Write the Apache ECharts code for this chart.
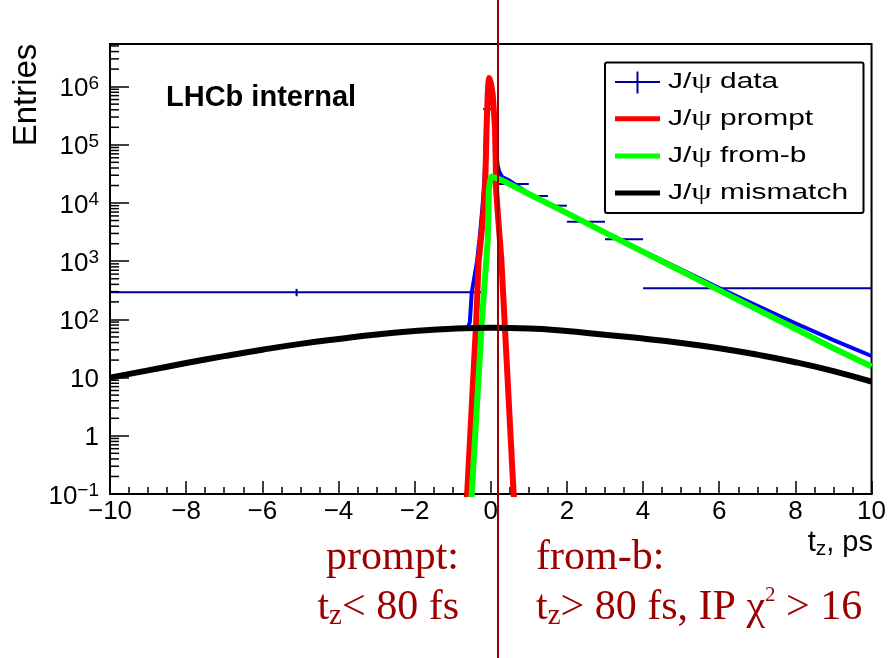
<!DOCTYPE html>
<html>
<head>
<meta charset="utf-8">
<script src="https://cdn.jsdelivr.net/npm/echarts@6/dist/echarts.min.js"></script>
<style>
  html, body { margin: 0; padding: 0; background: #fff; }
  #chart { width: 889px; height: 658px; }
</style>
</head>
<body>
<div id="chart"></div>
<script>
// ---------------- values ----------------
// J/psi data: histogram bins (t_z in ps) with entries and error-bar limits
const dataBinLo = [-10, -0.2, 0.08, 0.2, 1.0, 1.5, 2.0, 3.0, 4.0];
const dataBinHi = [-0.2, 0.08, 0.2, 1.0, 1.5, 2.0, 3.0, 4.0, 10];
const dataVal   = [292, 4.1e5, 2.5e5, 2.12e4, 1.32e4, 9.0e3, 4.77e3, 2.38e3, 342];
const dataErrLo = [250, 3.9e5, 2.4e5, 2.05e4, 1.27e4, 8.7e3, 4.6e3, 2.3e3, 331];
const dataErrHi = [335, 4.3e5, 2.6e5, 2.19e4, 1.37e4, 9.3e3, 4.94e3, 2.46e3, 353];

// prompt component
const promptT = [-0.66, -0.62, -0.54, -0.46, -0.38, -0.32, -0.26, -0.20, -0.15, -0.13, -0.11, -0.08, -0.06, -0.04,
                 -0.02, 0.01, 0.05, 0.11, 0.13, 0.14, 0.19, 0.24, 0.28, 0.36, 0.44, 0.52, 0.60, 0.64];
const promptY = [0.05, 0.1, 1, 10, 100, 1000, 2300, 6000, 1.7e4, 5.4e4, 2.0e5, 7.4e5, 1.2e6, 1.4e6,
                 1.3e6, 1.1e6, 7.4e5, 2.0e5, 5.4e4, 1.7e4, 6000, 2300, 1000, 100, 10, 1, 0.1, 0.05];

// from-b component
const fromBT = [-0.54, -0.50, -0.41, -0.32, -0.23, -0.12, -0.08, -0.05, -0.02, 0.02, 0.06, 0.3,
                1, 2, 3, 4, 5, 6, 7, 8, 9, 10];
const fromBY = [0.05, 0.1, 1, 10, 100, 1000, 2300, 1.66e4, 2.4e4, 2.85e4, 2.95e4, 2.45e4,
                1.43e4, 6700, 3100, 1450, 680, 315, 147, 69, 32, 15.5];

// mismatch component
const mismatchT = [-10, -9, -8, -7, -6, -5, -4, -3, -2, -1, 0, 1, 2, 3, 4, 5, 6, 7, 8, 9, 10];
const mismatchY = [10, 13.3, 17.8, 23.4, 30.2, 38, 46.2, 55, 63, 69.2, 71.6, 70, 63, 54.3, 46.8, 39.4, 32, 24.8,
                   18.4, 12.9, 8.5];

// total fit
const totalT = [-10, -9, -8, -7, -6, -5, -4, -3, -2, -1, -0.6, -0.55, -0.5, -0.36, -0.28, -0.21, -0.16,
                -0.12, -0.08, -0.04, 0.01, 0.05, 0.11, 0.14, 0.18, 0.22, 0.3, 0.5, 1, 2, 3, 4, 5, 6, 7, 8, 9, 10];
const totalY = [10, 13.3, 17.8, 23.4, 30.2, 38, 46.2, 55, 63, 69.2, 72, 90, 290, 1000, 3000, 1.0e4, 3.0e4,
                2.2e5, 7.6e5, 1.42e6, 1.12e6, 7.6e5, 2.2e5, 8.0e4, 4.5e4, 3.5e4, 2.8e4, 2.4e4, 1.45e4, 6800, 3150,
                1500, 720, 347, 171, 86, 44, 23.5];

const legendNames = ['J/ψ data', 'J/ψ prompt', 'J/ψ from-b', 'J/ψ mismatch'];

// ---------------- styling ----------------
const SANS = 'Liberation Sans';
const SERIF = 'Liberation Serif';
const DARK_RED = '#9b0000';
const C_DATA = '#000099', C_TOTAL = '#0000ff', C_PROMPT = '#ff0000', C_FROMB = '#00ff00', C_MIS = '#000000';

const X_MIN = -10, X_MAX = 10;
const Y_MIN = 0.1, Y_MAX = 5.4e6;

const pairs = (xs, ys) => xs.map((x, i) => [x, ys[i]]);

// log-axis minor ticks (2..9 x 10^k)
const yMinorTicks = [];
for (let k = -1; k <= 6; k++) {
  for (let m = 2; m <= 9; m++) {
    const v = m * Math.pow(10, k);
    if (v < Y_MAX) yMinorTicks.push([X_MIN, v]);
  }
}

const chart = echarts.init(document.getElementById('chart'), null, { renderer: 'canvas' });

const lineSeries = (name, xs, ys, color, width, extra) => Object.assign({
  name, type: 'line', data: pairs(xs, ys), showSymbol: false, symbol: 'none',
  lineStyle: { color, width, cap: 'butt', join: 'round' }, itemStyle: { color, borderWidth: 0 },
  clip: true, silent: true
}, extra || {});

// legend rows drawn as a boxed key
const LEG_X = 605, LEG_Y = 62.5, LEG_W = 258.5, LEG_H = 150.5;
const legRowY = [81.5, 118.7, 155.9, 193.1];
const legColors = [C_DATA, C_PROMPT, C_FROMB, C_MIS];
const legendGraphics = [
  { type: 'rect', z: 50, shape: { x: LEG_X, y: LEG_Y, width: LEG_W, height: LEG_H, r: 2 },
    style: { fill: '#fff', stroke: '#000', lineWidth: 2 } }
];
legendNames.forEach((name, i) => {
  const y = legRowY[i];
  if (i === 0) {
    legendGraphics.push({ type: 'line', z: 51, shape: { x1: 615, y1: y + 0.5, x2: 660, y2: y + 0.5 },
      style: { stroke: legColors[i], lineWidth: 2 } });
    legendGraphics.push({ type: 'line', z: 51, shape: { x1: 637.5, y1: y - 10, x2: 637.5, y2: y + 12 },
      style: { stroke: legColors[i], lineWidth: 2 } });
  } else {
    legendGraphics.push({ type: 'line', z: 51, shape: { x1: 615, y1: y, x2: 660, y2: y },
      style: { stroke: legColors[i], lineWidth: 5 } });
  }
  legendGraphics.push({ type: 'text', z: 51, x: 668, y: y, scaleX: 1.36,
    style: { text: name.replace('ψ', '{psi|ψ}'), fontFamily: SANS, fontSize: 22, fill: '#000',
      align: 'left', verticalAlign: 'middle',
      rich: { psi: { fontFamily: SERIF, fontSize: 24, fill: '#000' } } } });
});

const option = {
  animation: false,
  backgroundColor: '#fff',
  grid: { left: 110, right: 16, top: 44, bottom: 164, show: true, borderColor: '#000', borderWidth: 2,
          backgroundColor: 'transparent' },
  xAxis: {
    type: 'value', min: X_MIN, max: X_MAX, interval: 2,
    axisLine: { onZero: false, lineStyle: { color: '#000', width: 2 } },
    axisTick: { inside: true, length: 13, lineStyle: { color: '#000', width: 1.5 } },
    minorTick: { show: true, splitNumber: 4, length: 7, lineStyle: { color: '#000', width: 1.5 } },
    splitLine: { show: false },
    axisLabel: { margin: 5, fontFamily: SANS, fontSize: 26, color: '#000',
      formatter: v => String(v).replace('-', '−') }
  },
  yAxis: {
    type: 'log', logBase: 10, min: Y_MIN, max: Y_MAX, splitNumber: 8,
    axisLine: { show: true, onZero: false, lineStyle: { color: '#000', width: 2 } },
    axisTick: { show: true, inside: true, length: 19, lineStyle: { color: '#000', width: 1.5 } },
    minorTick: { show: false },
    splitLine: { show: false },
    axisLabel: {
      showMaxLabel: false, margin: 11, fontFamily: SANS, fontSize: 26, color: '#000', lineHeight: 30,
      padding: [5, 0, 0, 0],
      formatter: v => {
        const e = Math.round(Math.log10(v));
        if (e === 0) return '1';
        if (e === 1) return '10';
        return '10{sup|' + (e < 0 ? '−' + (-e) : e) + '}';
      },
      rich: { sup: { fontFamily: SANS, fontSize: 19, color: '#000', verticalAlign: 'top', lineHeight: 15 } }
    }
  },
  series: [
    {
      name: 'minor ticks', type: 'custom', silent: true, z: 3,
      encode: { x: 0, y: 1 }, data: yMinorTicks,
      renderItem: (params, api) => {
        const c = api.coord([api.value(0), api.value(1)]);
        return { type: 'line', shape: { x1: c[0], y1: c[1], x2: c[0] + 9, y2: c[1] },
                 style: { stroke: '#000', lineWidth: 1.5 } };
      }
    },
    {
      name: legendNames[0], type: 'custom', silent: true,
      dimensions: ['lo', 'hi', 'val', 'errLo', 'errHi'],
      encode: { x: [0, 1], y: [2, 3, 4] },
      data: dataVal.map((v, i) => [dataBinLo[i], dataBinHi[i], v, dataErrLo[i], dataErrHi[i]]),
      renderItem: (params, api) => {
        const lo = api.value(0), hi = api.value(1), v = api.value(2);
        const mid = (lo + hi) / 2;
        const a = api.coord([lo, v]), b = api.coord([hi, v]);
        const e1 = api.coord([mid, api.value(3)]), e2 = api.coord([mid, api.value(4)]);
        return { type: 'group', children: [
          { type: 'line', shape: { x1: a[0], y1: a[1], x2: b[0], y2: b[1] }, style: { stroke: C_DATA, lineWidth: 2 } },
          { type: 'line', shape: { x1: e1[0], y1: e1[1], x2: e2[0], y2: e2[1] }, style: { stroke: C_DATA, lineWidth: 2 } }
        ] };
      }
    },
    lineSeries('total fit', totalT, totalY, C_TOTAL, 4),
    lineSeries(legendNames[1], promptT, promptY, C_PROMPT, 6),
    lineSeries(legendNames[2], fromBT, fromBY, C_FROMB, 6),
    lineSeries(legendNames[3], mismatchT, mismatchY, C_MIS, 6, { smooth: true })
  ],
  graphic: [
    { type: 'text', z: 20, x: 26.6, y: 95, rotation: Math.PI / 2,
      style: { text: 'Entries', fontFamily: SANS, fontSize: 33, fill: '#000', align: 'center', verticalAlign: 'middle' } },
    { type: 'text', z: 20, x: 166, y: 97.6,
      style: { text: 'LHCb internal', fontFamily: SANS, fontWeight: 'bold', fontSize: 29, fill: '#000',
               align: 'left', verticalAlign: 'middle' } },
    { type: 'text', z: 20, x: 873, y: 543,
      style: { text: 't{sub|z}, ps', fontFamily: SANS, fontSize: 29, fill: '#000', lineHeight: 34,
               align: 'right', verticalAlign: 'middle',
               rich: { sub: { fontFamily: SANS, fontSize: 21, fill: '#000', verticalAlign: 'bottom', lineHeight: 11 } } } },
    ...legendGraphics,
    { type: 'line', z: 100, shape: { x1: 498, y1: 0, x2: 498, y2: 658 }, style: { stroke: DARK_RED, lineWidth: 2 } },
    { type: 'text', z: 100, x: 459, y: 557.8,
      style: { text: 'prompt:', fontFamily: SERIF, fontSize: 42, fill: DARK_RED, align: 'right', verticalAlign: 'middle' } },
    { type: 'text', z: 100, x: 459, y: 607.5,
      style: { text: 't{sub|z}< 80 fs', fontFamily: SERIF, fontSize: 42, fill: DARK_RED, lineHeight: 46,
               align: 'right', verticalAlign: 'middle',
               rich: { sub: { fontFamily: SERIF, fontSize: 29, fill: DARK_RED, verticalAlign: 'bottom', lineHeight: 17 } } } },
    { type: 'text', z: 100, x: 536, y: 557.8,
      style: { text: 'from-b:', fontFamily: SERIF, fontSize: 42, fill: DARK_RED, align: 'left', verticalAlign: 'middle' } },
    { type: 'text', z: 100, x: 536, y: 607.5,
      style: { text: 't{sub|z}> 80 fs, IP χ{sup|2} > 16', fontFamily: SERIF, fontSize: 42, fill: DARK_RED, lineHeight: 46,
               align: 'left', verticalAlign: 'middle',
               rich: {
                 sub: { fontFamily: SERIF, fontSize: 29, fill: DARK_RED, verticalAlign: 'bottom', lineHeight: 17 },
                 sup: { fontFamily: SERIF, fontSize: 21, fill: DARK_RED, verticalAlign: 'top', lineHeight: 34 }
               } } }
  ]
};

chart.setOption(option);
</script>
</body>
</html>
